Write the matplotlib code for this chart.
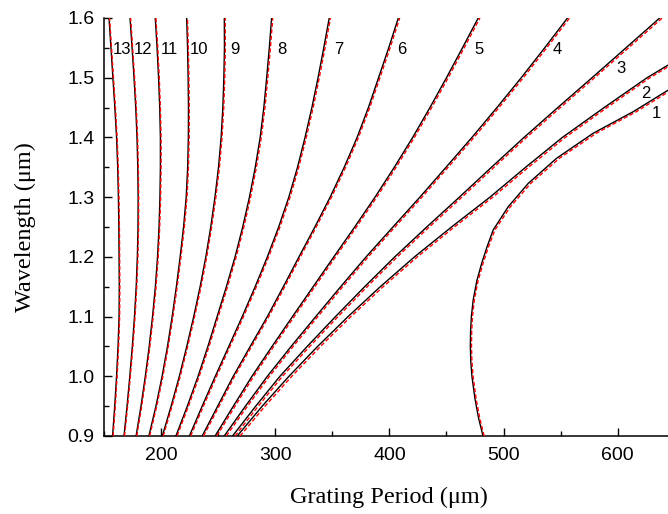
import matplotlib
matplotlib.use("Agg")
import matplotlib.pyplot as plt
from matplotlib.ticker import MultipleLocator

# Wavelength samples (um) used for modes 3-13
wl = [0.90, 0.95, 1.00, 1.05, 1.10, 1.15, 1.20, 1.25, 1.30, 1.35, 1.40,
      1.45, 1.50, 1.55, 1.60]

# Grating period (um) per mode: solid = full model, dashed = approximate model
period_exact = {
    13: [157.5, 159.4, 161.0, 162.3, 163.2, 163.4, 163.2, 163.0, 162.6, 162.0,
         161.0, 159.5, 157.8, 156.1, 154.4],
    12: [167.5, 170.2, 172.6, 174.8, 176.7, 178.2, 179.2, 179.8, 179.9, 179.6,
         178.9, 177.8, 176.3, 174.6, 172.8],
    11: [178.1, 182.4, 186.2, 189.6, 192.5, 195.0, 196.9, 198.2, 199.0, 199.4,
         199.4, 198.8, 197.8, 196.5, 194.9],
    10: [189.3, 195.5, 200.9, 205.6, 209.7, 213.4, 216.7, 219.7, 222.0, 223.3,
         223.9, 224.0, 223.7, 223.2, 222.4],
    9: [201.1, 208.8, 216.0, 222.5, 228.6, 234.2, 239.2, 243.5, 247.2, 250.3,
        252.6, 254.1, 255.0, 255.5, 255.4],
    8: [213.0, 223.0, 232.4, 241.0, 249.1, 257.2, 264.8, 271.5, 277.4, 282.5,
        286.8, 290.0, 292.5, 294.8, 296.8],
    7: [224.8, 236.0, 247.5, 259.3, 271.1, 282.4, 293.1, 303.0, 311.9, 319.5,
        326.1, 332.1, 337.5, 342.5, 347.3],
    6: [236.0, 249.6, 263.2, 278.1, 293.1, 307.1, 320.8, 334.7, 348.1, 360.4,
        371.7, 381.6, 390.5, 399.4, 407.8],
    5: [247.3, 263.3, 279.6, 297.2, 315.1, 333.2, 351.3, 369.6, 387.4, 404.3,
        420.4, 435.5, 450.0, 464.0, 477.8],
    4: [255.3, 273.9, 293.1, 313.9, 335.5, 357.3, 379.6, 403.1, 426.7, 449.6,
        472.3, 494.2, 515.5, 536.0, 556.0],
    3: [262.6, 282.9, 304.1, 328.0, 352.8, 378.3, 404.7, 432.7, 461.3, 489.4,
        517.9, 547.5, 577.5, 607.2, 636.8],
}
period_approx = {
    13: [158.0, 159.9, 161.5, 162.8, 163.7, 163.9, 163.7, 163.5, 163.1, 162.5,
         161.5, 160.0, 158.3, 156.6, 154.9],
    12: [168.0, 170.7, 173.1, 175.3, 177.2, 178.7, 179.7, 180.3, 180.4, 180.1,
         179.4, 178.3, 176.8, 175.1, 173.3],
    11: [178.7, 183.0, 186.8, 190.2, 193.1, 195.6, 197.5, 198.8, 199.6, 200.0,
         200.0, 199.4, 198.4, 197.1, 195.5],
    10: [190.0, 196.2, 201.6, 206.3, 210.4, 214.1, 217.4, 220.4, 222.7, 224.0,
         224.6, 224.7, 224.4, 223.9, 223.1],
    9: [201.9, 209.6, 216.8, 223.3, 229.4, 235.0, 240.0, 244.3, 248.0, 251.1,
        253.4, 254.9, 255.8, 256.3, 256.2],
    8: [214.0, 224.0, 233.4, 242.0, 250.1, 258.2, 265.8, 272.5, 278.4, 283.5,
        287.8, 291.0, 293.5, 295.8, 297.8],
    7: [225.9, 237.1, 248.6, 260.4, 272.2, 283.5, 294.2, 304.1, 313.0, 320.6,
        327.2, 333.2, 338.6, 343.6, 348.4],
    6: [237.2, 250.8, 264.4, 279.3, 294.3, 308.3, 322.0, 335.9, 349.3, 361.6,
        372.9, 382.8, 391.7, 400.6, 409.0],
    5: [248.8, 264.8, 281.1, 298.7, 316.6, 334.7, 352.8, 371.1, 388.9, 405.8,
        421.9, 437.0, 451.5, 465.5, 479.3],
    4: [257.1, 275.7, 294.9, 315.7, 337.3, 359.1, 381.4, 404.9, 428.5, 451.4,
        474.1, 496.0, 517.3, 537.8, 557.8],
    3: [264.8, 285.1, 306.3, 330.2, 355.0, 380.5, 406.9, 434.9, 463.5, 491.6,
        520.1, 549.7, 579.7, 609.4, 639.0],
}

# Mode 2 leaves the window through the right edge
wl_m2 = [0.90, 0.95, 1.00, 1.05, 1.10, 1.15, 1.20, 1.25, 1.30, 1.35, 1.40,
         1.45, 1.50, 1.521]
m2_exact = [266.7, 288.6, 312.0, 337.1, 363.8, 392.0, 422.0, 454.4, 488.1,
            519.3, 551.5, 588.1, 625.7, 644.0]
m2_approx = [269.2, 291.1, 314.5, 339.6, 366.3, 394.5, 424.5, 456.9, 490.6,
             521.8, 554.0, 590.6, 628.2, 646.5]

# Mode 1 turns back near 1.05 um
wl_m1 = [0.9, 0.93, 0.963, 1.0, 1.025, 1.05, 1.075, 1.1, 1.128, 1.16, 1.189,
         1.215, 1.245, 1.284, 1.323, 1.365, 1.407, 1.443, 1.479]
m1_exact = [482.0, 478.1, 474.9, 472.3, 471.3, 470.9, 471.1, 471.8, 473.4,
            476.6, 480.8, 485.2, 490.9, 504.1, 521.6, 546.4, 578.5, 613.5,
            644.0]
m1_approx = [483.0, 479.1, 475.9, 473.3, 472.3, 471.9, 472.1, 472.8, 474.4,
             477.7, 482.0, 486.5, 492.4, 506.0, 523.8, 548.9, 581.2, 616.2,
             646.6]

# Mode number labels and their anchor points (period, wavelength)
mode_labels = ["13", "12", "11", "10", "9", "8", "7", "6", "5", "4", "3", "2", "1"]
label_x = [165.5, 183.9, 207.2, 233.5, 264.7, 305.6, 355.2, 410.7, 478.4,
           547.3, 602.8, 624.7, 634.1]
label_y = [1.548, 1.548, 1.548, 1.548, 1.548, 1.548, 1.548, 1.548, 1.548,
           1.548, 1.516, 1.473, 1.440]

x_ticks = [200, 300, 400, 500, 600]
y_ticks = [0.9, 1.0, 1.1, 1.2, 1.3, 1.4, 1.5, 1.6]

fig = plt.figure(figsize=(6.68, 5.14), dpi=100)
ax = fig.add_axes([104 / 668, 78 / 514, (674.8 - 104) / 668, 418 / 514])

solid_kw = dict(color="black", lw=1.0, solid_joinstyle="round", zorder=2)
dash_kw = dict(color="#ff0000", lw=1.0, linestyle=(0, (3, 1.6)), zorder=3)

for m in period_exact:
    ax.plot(period_exact[m], wl, **solid_kw)
    ax.plot(period_approx[m], wl, **dash_kw)
ax.plot(m2_exact, wl_m2, **solid_kw)
ax.plot(m2_approx, wl_m2, **dash_kw)
ax.plot(m1_exact, wl_m1, **solid_kw)
ax.plot(m1_approx, wl_m1, **dash_kw)

for t, x, y in zip(mode_labels, label_x, label_y):
    ax.text(x, y, t, ha="center", va="center", fontsize=12,
            family="Liberation Sans", color="black")

ax.set_xlim(150, 650)
ax.set_ylim(0.9, 1.6)
ax.xaxis.set_minor_locator(MultipleLocator(50))
ax.yaxis.set_minor_locator(MultipleLocator(0.05))
ax.set_xticks(x_ticks)
ax.set_xticklabels([str(v) for v in x_ticks], family="Liberation Sans")
ax.set_yticks(y_ticks)
ax.set_yticklabels([f"{v:.1f}" for v in y_ticks], family="Liberation Sans")
ax.tick_params(which="both", direction="in", width=1.0, top=False, right=False,
               labelsize=14)
ax.tick_params(axis="x", pad=8)
ax.tick_params(axis="y", pad=7)
ax.tick_params(which="major", length=6)
ax.tick_params(which="minor", length=3.3)

for side in ("top", "right"):
    ax.spines[side].set_visible(False)
for side in ("left", "bottom"):
    ax.spines[side].set_linewidth(1.1)

ax.set_xlabel("Grating Period (\u03bcm)", family="Liberation Serif",
              fontsize=17.5, labelpad=16)
ax.set_ylabel("Wavelength (\u03bcm)", family="Liberation Serif",
              fontsize=17.5, labelpad=22)

fig.savefig("out.png", dpi=100)
